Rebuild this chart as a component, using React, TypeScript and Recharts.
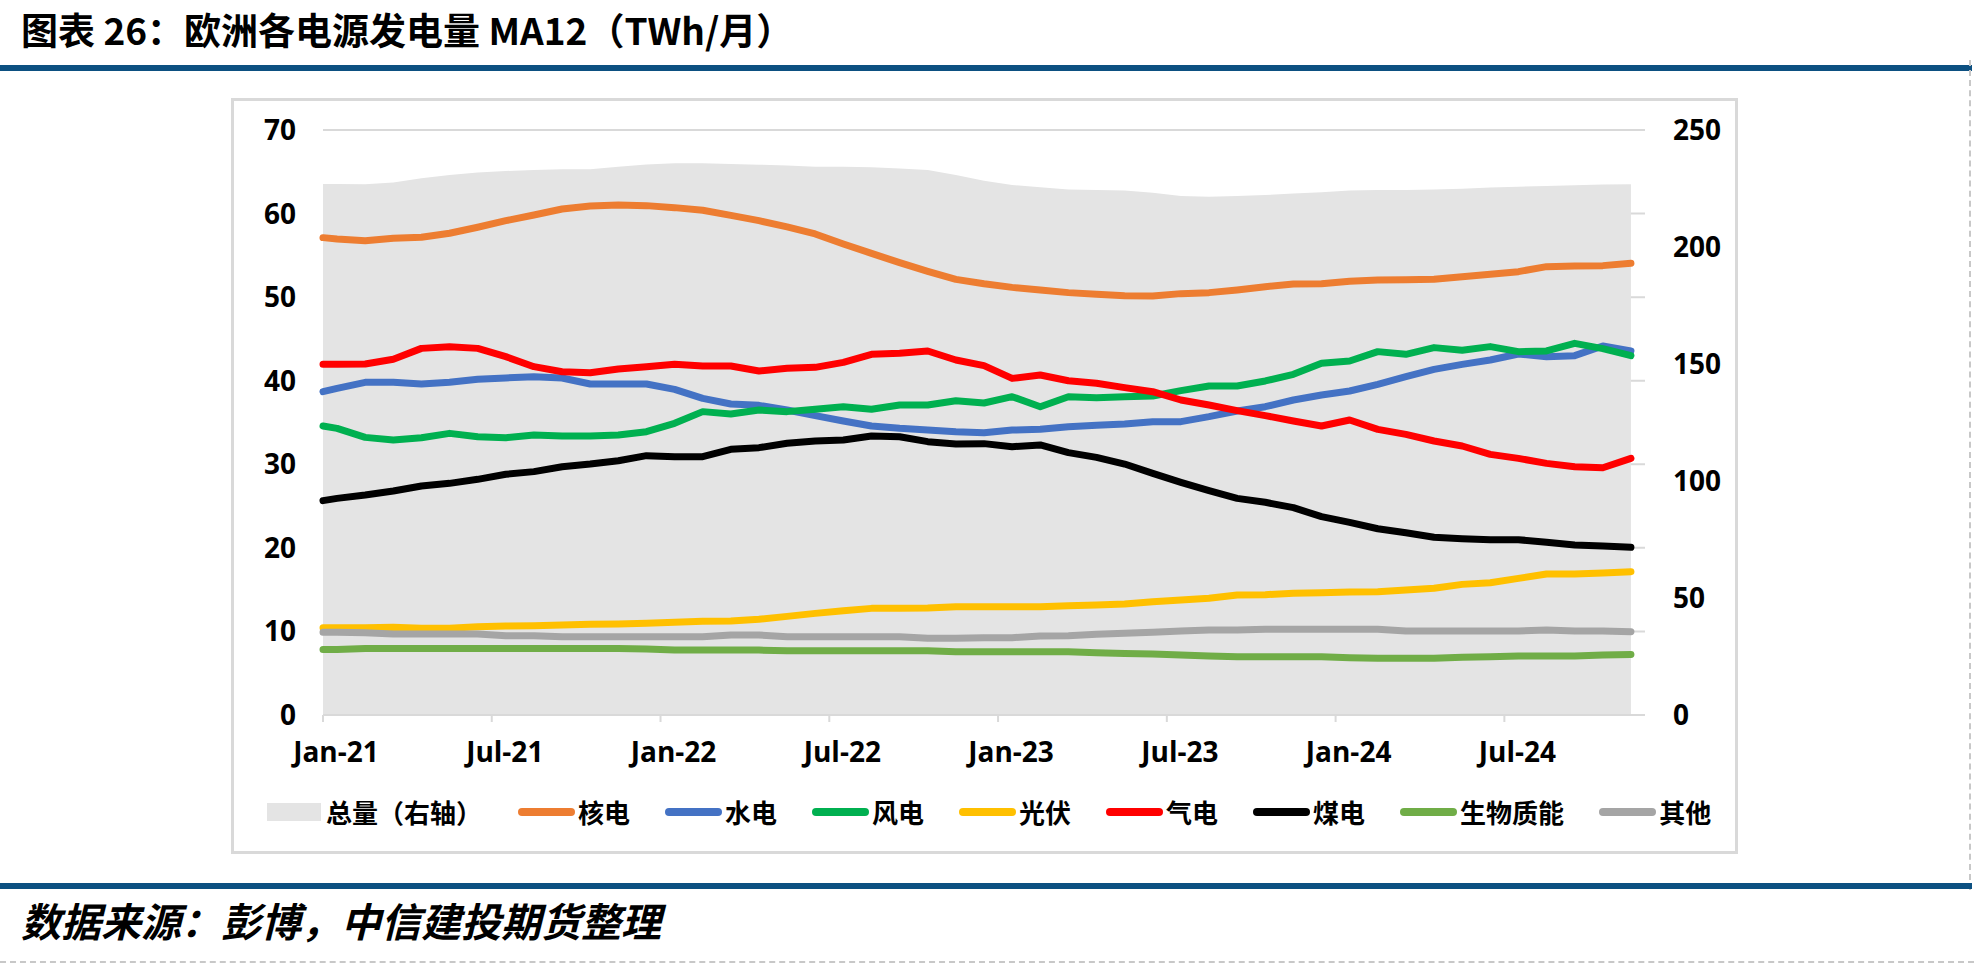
import React from "react";
import { ComposedChart, Area, Line, XAxis, YAxis, CartesianGrid } from "recharts";

// x axis: months since Jan-21; ticks every 6 months
const tickMonths = [0, 6, 12, 18, 24, 30, 36, 42];
const tickLabels = ["Jan-21", "Jul-21", "Jan-22", "Jul-22", "Jan-23", "Jul-23", "Jan-24", "Jul-24"];

// 总量 (右轴, TWh/月): first point sits on the axis start, then mid-month Jan-21 ... Nov-24
const total = [
  226.9, 226.9, 226.8, 227.6, 229.4, 230.8, 231.8, 232.5, 232.9, 233.2, 233.2, 234.3,
  235.3, 235.8, 235.8, 235.5, 235.2, 234.8, 234.3, 234.3, 234.1, 233.6, 232.9, 230.8,
  228.3, 226.5, 225.5, 224.6, 224.4, 224.1, 223.2, 221.8, 221.5, 221.8, 222.2, 222.9,
  223.4, 224.1, 224.4, 224.4, 224.6, 224.9, 225.4, 225.8, 226.1, 226.4, 226.7, 226.8,
];
const nuclear = [
  57.12, 56.96, 56.76, 57.04, 57.16, 57.64, 58.36, 59.15, 59.83, 60.55, 60.91, 61.03,
  60.95, 60.71, 60.39, 59.79, 59.15, 58.4, 57.56, 56.36, 55.24, 54.13, 53.09, 52.13,
  51.6, 51.17, 50.86, 50.54, 50.34, 50.18, 50.14, 50.42, 50.54, 50.86, 51.25, 51.57,
  51.61, 51.89, 52.05, 52.09, 52.13, 52.45, 52.73, 53.05, 53.65, 53.73, 53.77, 54.05,
];
const hydro = [
  38.69, 39.09, 39.81, 39.81, 39.61, 39.81, 40.17, 40.33, 40.48, 40.33, 39.61, 39.61,
  39.61, 38.97, 37.89, 37.21, 37.05, 36.5, 35.82, 35.18, 34.58, 34.3, 34.1, 33.9,
  33.78, 34.1, 34.18, 34.5, 34.66, 34.82, 35.1, 35.1, 35.7, 36.38, 36.89, 37.69,
  38.29, 38.77, 39.57, 40.48, 41.36, 41.96, 42.48, 43.2, 42.88, 43.0, 44.15, 43.56,
];
const wind = [
  34.58, 34.3, 33.22, 32.9, 33.18, 33.7, 33.3, 33.18, 33.5, 33.38, 33.38, 33.5,
  33.9, 34.9, 36.3, 36.02, 36.5, 36.3, 36.58, 36.89, 36.58, 37.09, 37.09, 37.61,
  37.33, 38.09, 36.89, 38.09, 37.97, 38.09, 38.17, 38.81, 39.37, 39.37, 39.97, 40.76,
  42.08, 42.36, 43.48, 43.16, 43.96, 43.64, 44.08, 43.48, 43.56, 44.47, 43.84, 43.0,
];
const solar = [
  10.45, 10.45, 10.45, 10.49, 10.37, 10.37, 10.57, 10.65, 10.69, 10.77, 10.85, 10.89,
  10.97, 11.09, 11.21, 11.25, 11.45, 11.8, 12.16, 12.48, 12.76, 12.76, 12.8, 12.96,
  12.96, 12.96, 12.96, 13.08, 13.16, 13.28, 13.56, 13.76, 13.96, 14.36, 14.4, 14.56,
  14.64, 14.72, 14.76, 14.96, 15.16, 15.63, 15.83, 16.35, 16.87, 16.87, 16.99, 17.15,
];
const gas = [
  41.96, 41.96, 42.0, 42.56, 43.87, 44.07, 43.87, 42.88, 41.68, 41.08, 40.96, 41.4,
  41.68, 41.96, 41.76, 41.76, 41.16, 41.48, 41.6, 42.2, 43.16, 43.28, 43.56, 42.48,
  41.8, 40.28, 40.68, 40.0, 39.69, 39.17, 38.69, 37.69, 37.09, 36.42, 35.82, 35.18,
  34.58, 35.3, 34.18, 33.58, 32.79, 32.19, 31.19, 30.71, 30.11, 29.71, 29.59, 30.71,
];
const coal = [
  25.65, 25.92, 26.32, 26.8, 27.4, 27.72, 28.2, 28.8, 29.12, 29.71, 30.03, 30.43,
  31.03, 30.91, 30.91, 31.79, 31.99, 32.51, 32.79, 32.91, 33.38, 33.3, 32.71, 32.43,
  32.47, 32.11, 32.31, 31.39, 30.83, 30.03, 28.92, 27.84, 26.84, 25.92, 25.45, 24.81,
  23.73, 23.05, 22.29, 21.81, 21.26, 21.1, 20.98, 20.98, 20.66, 20.34, 20.22, 20.06,
];
const biomass = [
  7.85, 7.85, 7.97, 7.97, 7.97, 7.97, 7.97, 7.97, 7.97, 7.97, 7.97, 7.97,
  7.89, 7.77, 7.77, 7.77, 7.77, 7.69, 7.69, 7.69, 7.69, 7.69, 7.69, 7.57,
  7.57, 7.57, 7.57, 7.57, 7.45, 7.37, 7.29, 7.17, 7.06, 6.98, 6.98, 6.98,
  6.98, 6.86, 6.78, 6.78, 6.78, 6.9, 6.98, 7.06, 7.06, 7.06, 7.17, 7.25,
];
const other = [
  9.89, 9.89, 9.85, 9.69, 9.69, 9.69, 9.69, 9.49, 9.49, 9.37, 9.37, 9.37,
  9.37, 9.37, 9.37, 9.57, 9.57, 9.37, 9.37, 9.37, 9.37, 9.37, 9.17, 9.17,
  9.25, 9.25, 9.45, 9.49, 9.65, 9.77, 9.89, 10.05, 10.17, 10.17, 10.25, 10.25,
  10.25, 10.25, 10.25, 10.05, 10.05, 10.05, 10.05, 10.05, 10.17, 10.05, 10.05, 9.97,
];

const series = [
  { key: "nuclear", name: "核电", color: "#ED7D31", values: nuclear },
  { key: "hydro", name: "水电", color: "#4472C4", values: hydro },
  { key: "wind", name: "风电", color: "#00B050", values: wind },
  { key: "solar", name: "光伏", color: "#FFC000", values: solar },
  { key: "gas", name: "气电", color: "#FF0000", values: gas },
  { key: "coal", name: "煤电", color: "#000000", values: coal },
  { key: "biomass", name: "生物质能", color: "#70AD47", values: biomass },
  { key: "other", name: "其他", color: "#A5A5A5", values: other },
];

const data = total.map((t, i) => {
  const row: Record<string, number> = { m: i === 0 ? 0 : i - 0.5, total: t };
  series.forEach((s) => {
    row[s.key] = s.values[i];
  });
  return row;
});

const LATIN = "'Open Sans', 'Noto Sans CJK SC', sans-serif";
const CJK = "'Noto Sans CJK SC', 'Noto Sans', sans-serif";
const BLUE = "#0C5081";

const MonthTick = ({ x, y, payload }: any) => (
  <text
    x={x + 13}
    y={y}
    dy="0.71em"
    textAnchor="middle"
    fontSize={28}
    fontWeight={700}
    fontFamily={LATIN}
    fill="#000"
  >
    {tickLabels[tickMonths.indexOf(payload.value)]}
  </text>
);

const axisTick = { fontSize: 28, fontWeight: 700, fill: "#000", fontFamily: LATIN };

export default function App() {
  return (
    <div
      style={{
        position: "absolute",
        left: 0,
        top: 0,
        width: 1974,
        height: 967,
        background: "#fff",
        overflow: "hidden",
      }}
    >
      {/* 标题 */}
      <div
        style={{
          position: "absolute",
          left: 21,
          top: 11,
          fontSize: 37,
          lineHeight: "37px",
          fontWeight: 700,
          fontFamily: CJK,
          whiteSpace: "nowrap",
          color: "#000",
        }}
      >
        图表 26：欧洲各电源发电量 MA12（TWh/月）
      </div>
      <div style={{ position: "absolute", left: 0, top: 65, width: 1972, height: 6, background: BLUE }} />
      <div
        style={{
          position: "absolute",
          left: 1969,
          top: 60,
          height: 830,
          borderLeft: "2px dashed #C8C8C8",
        }}
      />

      {/* 图表外框 */}
      <div
        style={{
          position: "absolute",
          left: 231,
          top: 98,
          width: 1507,
          height: 756,
          boxSizing: "border-box",
          border: "3px solid #D9D9D9",
        }}
      />

      <div style={{ position: "absolute", left: 231, top: 99 }}>
        <ComposedChart
          width={1506}
          height={754}
          data={data}
          margin={{ top: 31, right: 30, left: 30, bottom: 78 }}
        >
          <CartesianGrid
            yAxisId="left"
            vertical={false}
            stroke="#D9D9D9"
            strokeWidth={2}
          />
          <XAxis
            dataKey="m"
            type="number"
            domain={[0, 47]}
            ticks={tickMonths}
            height={60}
            axisLine={{ stroke: "#D9D9D9", strokeWidth: 2 }}
            tickLine={{ stroke: "#D9D9D9", strokeWidth: 2 }}
            tickSize={7}
            tickMargin={20}
            tick={<MonthTick />}
            interval={0}
          />
          <YAxis
            yAxisId="left"
            domain={[0, 70]}
            ticks={[0, 10, 20, 30, 40, 50, 60, 70]}
            width={62}
            axisLine={false}
            tickLine={false}
            tickSize={0}
            tickMargin={27}
            tick={axisTick}
            interval={0}
          />
          <YAxis
            yAxisId="right"
            orientation="right"
            domain={[0, 250]}
            ticks={[0, 50, 100, 150, 200, 250]}
            width={62}
            axisLine={false}
            tickLine={false}
            tickSize={0}
            tickMargin={28}
            tick={{ ...axisTick, textAnchor: "start" }}
            interval={0}
          />
          <Area
            yAxisId="right"
            type="linear"
            dataKey="total"
            name="总量（右轴）"
            fill="#E4E4E4"
            fillOpacity={1}
            stroke="none"
            isAnimationActive={false}
          />
          {series.map((s) => (
            <Line
              key={s.key}
              yAxisId="left"
              type="linear"
              dataKey={s.key}
              name={s.name}
              stroke={s.color}
              strokeWidth={7}
              strokeLinejoin="round"
              strokeLinecap="round"
              dot={false}
              activeDot={false}
              isAnimationActive={false}
            />
          ))}
        </ComposedChart>
      </div>

      {/* 图例 */}
      <div
        style={{
          position: "absolute",
          left: 267,
          top: 797,
          height: 30,
          display: "flex",
          alignItems: "center",
          fontFamily: CJK,
          fontWeight: 700,
          fontSize: 26,
          lineHeight: "30px",
          whiteSpace: "nowrap",
          color: "#000",
        }}
      >
        <div style={{ display: "flex", alignItems: "center", marginRight: 36 }}>
          <div style={{ width: 54, height: 18, background: "#E4E4E4", marginRight: 5 }} />
          <span>总量（右轴）</span>
        </div>
        {series.map((s) => (
          <div key={s.key} style={{ display: "flex", alignItems: "center", marginRight: 35 }}>
            <div
              style={{
                width: 57,
                height: 8,
                borderRadius: 4,
                background: s.color,
                marginRight: 3,
              }}
            />
            <span>{s.name}</span>
          </div>
        ))}
      </div>

      {/* 数据来源 */}
      <div style={{ position: "absolute", left: 0, top: 883, width: 1972, height: 6, background: BLUE }} />
      <div
        style={{
          position: "absolute",
          left: 21,
          top: 900,
          fontSize: 40,
          lineHeight: "40px",
          fontWeight: 700,
          fontStyle: "italic",
          fontFamily: CJK,
          whiteSpace: "nowrap",
          color: "#000",
        }}
      >
        数据来源：彭博，中信建投期货整理
      </div>
      <div
        style={{
          position: "absolute",
          left: 0,
          top: 961,
          width: 1974,
          borderTop: "2px dashed #C8C8C8",
        }}
      />
    </div>
  );
}
